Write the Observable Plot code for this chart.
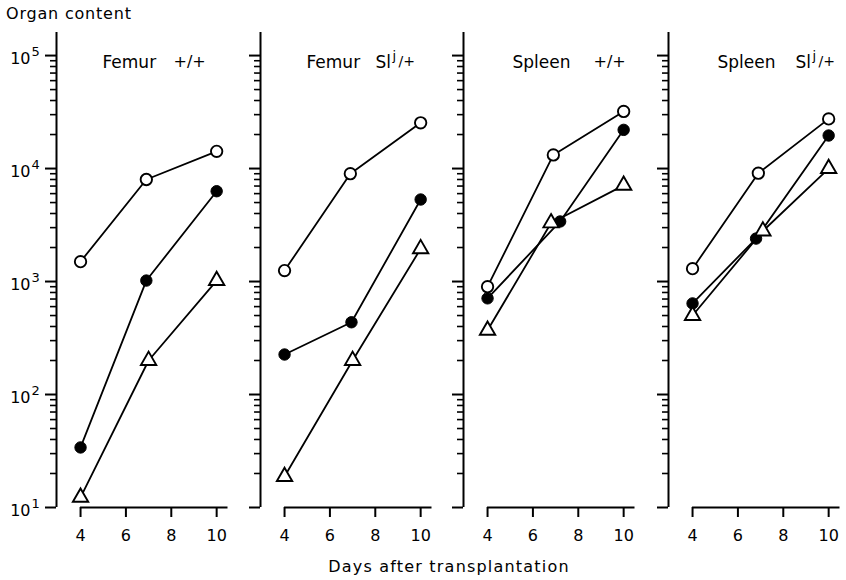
<!DOCTYPE html>
<html><head><meta charset="utf-8">
<script src="https://cdn.jsdelivr.net/npm/d3@7"></script>
<script src="https://cdn.jsdelivr.net/npm/@observablehq/plot@0.6"></script>
<style>
body{margin:0;background:#fff;}
#chart{position:relative;width:846px;height:580px;font-family:"DejaVu Sans",sans-serif;color:#000;overflow:hidden;}
#chart svg{position:absolute;top:0;overflow:visible;}
.lbl{position:absolute;font-size:16px;line-height:16px;white-space:nowrap;}
</style></head><body>
<div id="chart">
  <div class="lbl" style="left:6px;top:6px;letter-spacing:0.8px">Organ content</div>
  <div class="lbl" style="left:249px;width:400px;text-align:center;top:559px;letter-spacing:1.2px">Days after transplantation</div>
</div>
<script>
// ---- data ----
const tissues = ["Femur", "Femur", "Spleen", "Spleen"];
const genotypeBase = ["+/+", "Sl", "+/+", "Sl"];
const genotypeSup = ["", "j", "", "j"];
const genotypeTail = ["", "/+", "", "/+"];
const dayTicks = [4, 6, 8, 10];
const decades = [10, 100, 1000, 10000, 100000];

const femurWT = [
  {s: "open", day: 4, v: 1500}, {s: "open", day: 6.9, v: 8000}, {s: "open", day: 10, v: 14200},
  {s: "filled", day: 4, v: 34}, {s: "filled", day: 6.9, v: 1020}, {s: "filled", day: 10, v: 6300},
  {s: "triangle", day: 4, v: 12.3}, {s: "triangle", day: 7, v: 200}, {s: "triangle", day: 10, v: 1020}
];
const femurSl = [
  {s: "open", day: 4, v: 1250}, {s: "open", day: 6.9, v: 9000}, {s: "open", day: 10, v: 25400},
  {s: "filled", day: 4, v: 226}, {s: "filled", day: 6.95, v: 436}, {s: "filled", day: 10, v: 5320},
  {s: "triangle", day: 4, v: 18.8}, {s: "triangle", day: 7, v: 200}, {s: "triangle", day: 10, v: 1950}
];
const spleenWT = [
  {s: "open", day: 4, v: 900}, {s: "open", day: 6.9, v: 13200}, {s: "open", day: 10, v: 32000},
  {s: "filled", day: 4, v: 710}, {s: "filled", day: 7.2, v: 3400}, {s: "filled", day: 10, v: 22000},
  {s: "triangle", day: 4, v: 370}, {s: "triangle", day: 6.8, v: 3300}, {s: "triangle", day: 10, v: 7100}
];
const spleenSl = [
  {s: "open", day: 4, v: 1300}, {s: "open", day: 6.9, v: 9100}, {s: "open", day: 10, v: 27500},
  {s: "filled", day: 4, v: 640}, {s: "filled", day: 6.8, v: 2400}, {s: "filled", day: 10, v: 19600},
  {s: "triangle", day: 4, v: 500}, {s: "triangle", day: 7.1, v: 2800}, {s: "triangle", day: 10, v: 10000}
];
const panelData = [femurWT, femurSl, spleenWT, spleenSl];

// ---- layout ----
const axisX0 = [56, 260, 463, 668];
const xDomain = [2.94, 10.5];
const innerW = 171.5;
const minors = [];
for (const d of decades.slice(0, -1)) for (let k = 2; k <= 9; k++) minors.push(d * k);

function panel(i) {
  const data = panelData[i];
  const ml = i === 0 ? 56 : 20;
  const marks = [
    Plot.ruleX([xDomain[0]], {stroke: "black", strokeWidth: 2}),
    Plot.ruleY([decades[0]], {x1: dayTicks[0], x2: xDomain[1], stroke: "black", strokeWidth: 2}),
    Plot.axisY(decades, {tickSize: 11, tickFormat: () => "", strokeWidth: 2, label: null}),
    Plot.axisY(minors, {tickSize: 6, tickFormat: () => "", strokeWidth: 1.6, label: null}),
    Plot.axisX(dayTicks, {tickSize: 10, tickPadding: 12, strokeWidth: 2, fontSize: 16, label: null}),
    Plot.line(data, {x: "day", y: "v", z: "s", stroke: "black", strokeWidth: 1.8}),
    Plot.dot(data.filter(d => d.s === "open"), {x: "day", y: "v", r: 5.7, fill: "white", stroke: "black", strokeWidth: 1.9}),
    Plot.dot(data.filter(d => d.s === "filled"), {x: "day", y: "v", r: 5.7, fill: "black", stroke: "black", strokeWidth: 1}),
    Plot.dot(data.filter(d => d.s === "triangle"), {x: "day", y: "v", r: 5.7, symbol: "triangle", fill: "white", stroke: "black", strokeWidth: 1.9}),
    Plot.text([tissues[i]], {frameAnchor: "top-left", dx: i < 2 ? 46 : 49, dy: 23, textAnchor: "start", fontSize: 17}),
    Plot.text([genotypeBase[i]], {frameAnchor: "top-left", dx: i === 0 ? 117 : i === 1 ? 115 : i === 2 ? 130 : 127, dy: 23, textAnchor: "start", fontSize: i % 2 ? 17 : 16})
  ];
  if (genotypeSup[i]) {
    marks.push(
      Plot.text([genotypeSup[i]], {frameAnchor: "top-left", dx: i === 1 ? 132 : 144, dy: 18, textAnchor: "start", fontSize: 13}),
      Plot.text([genotypeTail[i]], {frameAnchor: "top-left", dx: i === 1 ? 138 : 150, dy: 24, textAnchor: "start", fontSize: 14})
    );
  }
  if (i === 0) {
    marks.push(
      Plot.text(decades, {y: d => d, text: () => "10", frameAnchor: "left", textAnchor: "end", dx: -26, dy: 3, fontSize: 16}),
      Plot.text(decades, {y: d => d, text: d => String(Math.round(Math.log10(d))), frameAnchor: "left", textAnchor: "start", dx: -25, dy: -4, fontSize: 13})
    );
  }
  const svg = Plot.plot({
    width: ml + innerW + 4,
    height: 560,
    marginTop: 32,
    marginBottom: 53,
    marginLeft: ml,
    marginRight: 4,
    style: {fontFamily: "DejaVu Sans, sans-serif", fontSize: "16px", color: "black", background: "transparent", overflow: "visible"},
    x: {domain: xDomain},
    y: {type: "log", domain: [10, 160000]},
    marks
  });
  svg.style.left = (axisX0[i] - ml) + "px";
  return svg;
}

const chart = document.getElementById("chart");
for (let i = 0; i < 4; i++) chart.appendChild(panel(i));
</script>
</body></html>
